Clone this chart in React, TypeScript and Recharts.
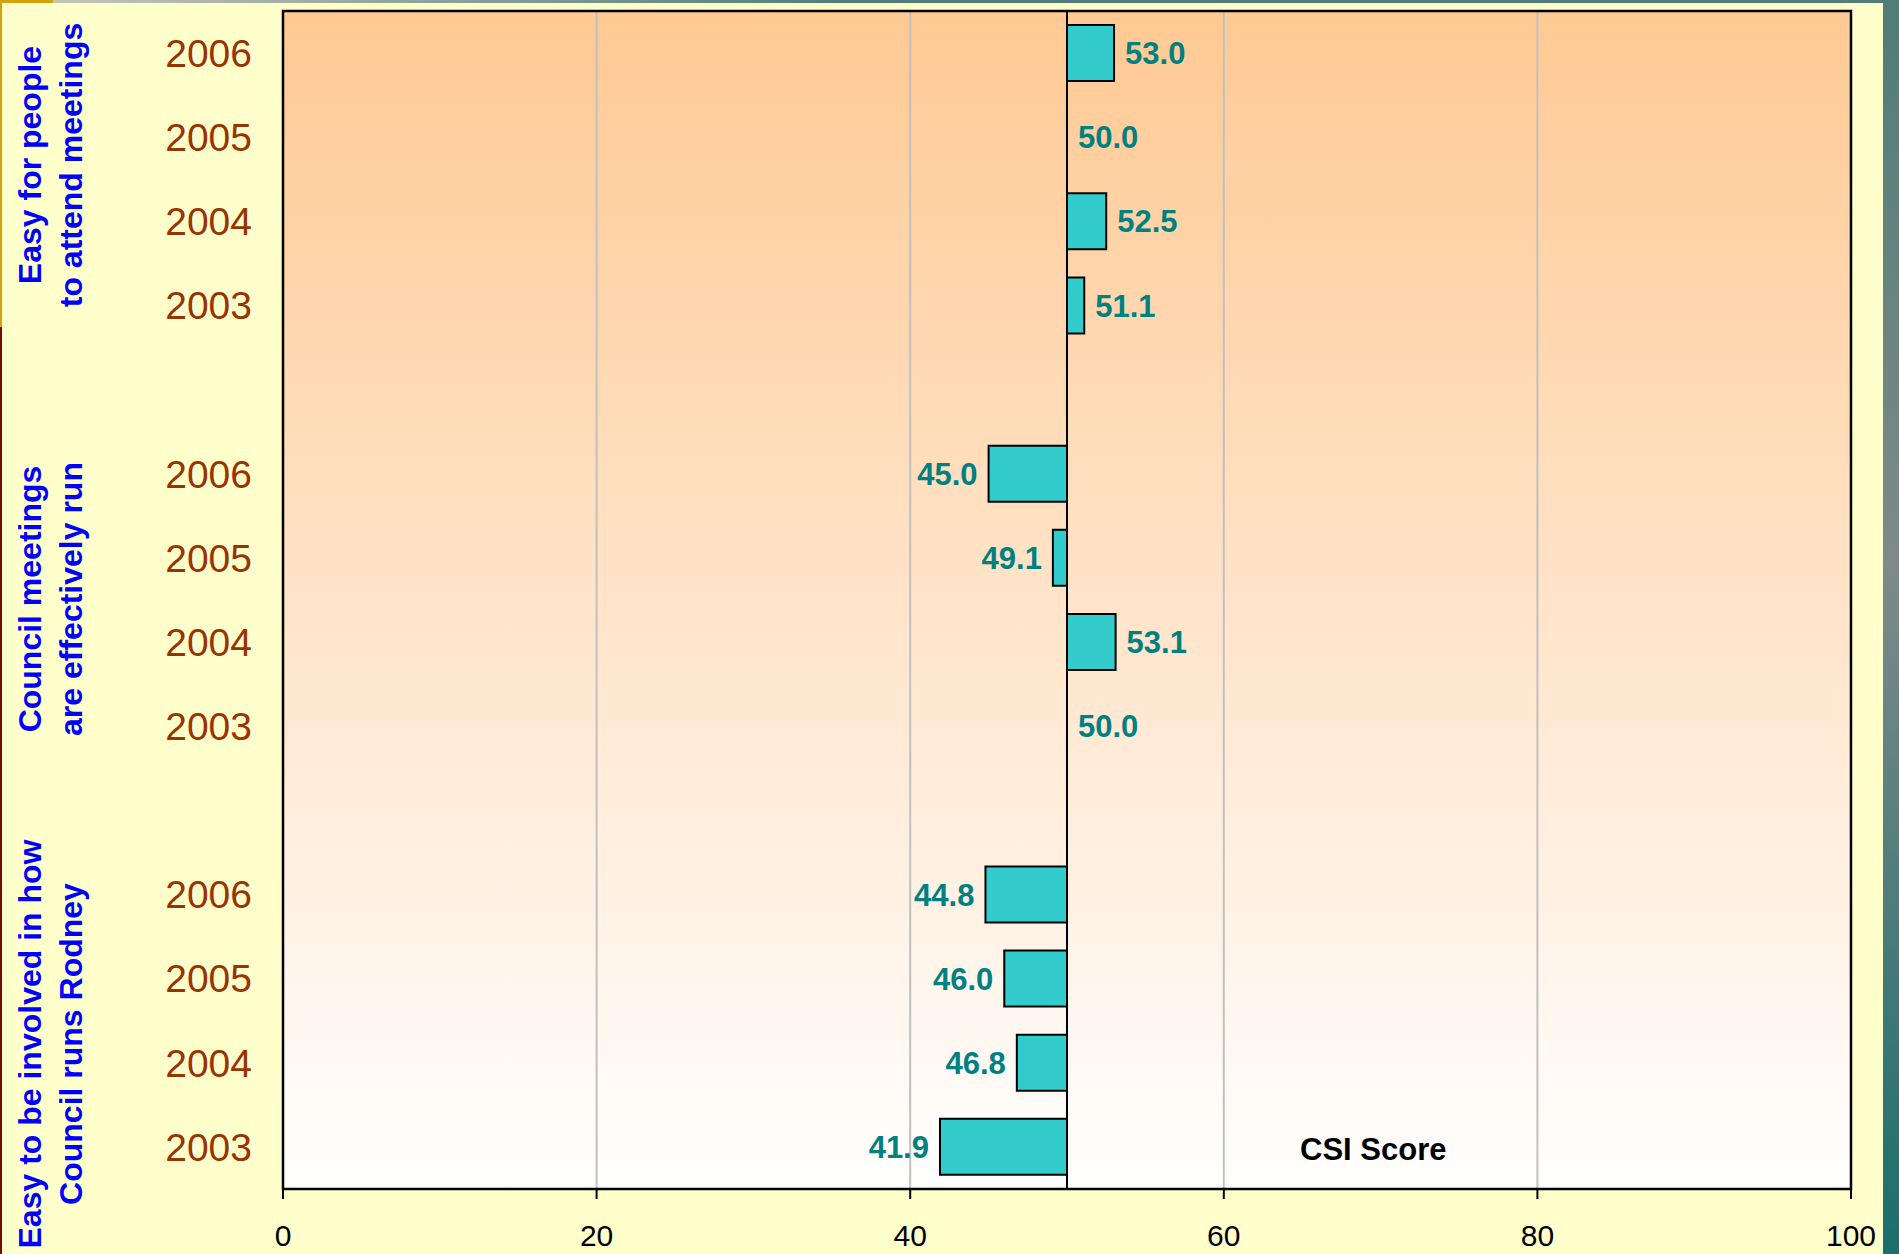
import React from 'react'
import {
  BarChart,
  Bar,
  XAxis,
  YAxis,
  CartesianGrid,
  ReferenceLine,
  ReferenceArea,
  Rectangle,
} from 'recharts'

const FONT = 'Arial, "Liberation Sans", sans-serif'

const groupLabels = [
  ['Easy for people', 'to attend meetings'],
  ['Council meetings', 'are effectively run'],
  ['Easy to be involved in how', 'Council runs Rodney'],
]
const years = ['2006', '2005', '2004', '2003']
const attendScores = [53.0, 50.0, 52.5, 51.1]
const runScores = [45.0, 49.1, 53.1, 50.0]
const involvedScores = [44.8, 46.0, 46.8, 41.9]
const xTicks = [0, 20, 40, 60, 80, 100]
const baseline = 50

// rows top to bottom, one empty slot between groups
const rows: { id: string; year: string; score: number | null }[] = []
;[attendScores, runScores, involvedScores].forEach((scores, g) => {
  scores.forEach((s, i) => rows.push({ id: `g${g}-${i}`, year: years[i], score: s }))
  if (g < 2) rows.push({ id: `gap${g}`, year: '', score: null })
})

const W = 1899
const H = 1254
const margin = { top: 11, right: 48, bottom: 10, left: 0 }
const yAxisWidth = 283
const xAxisHeight = 55

const rangeOf = (r: { score: number | null }) =>
  r.score == null ? null : [Math.min(r.score, baseline), Math.max(r.score, baseline)]

// bar + its value label; drawn together so the zero-width 50.0 rows still get a label
function ScoreBar(props: any) {
  const { x, y, width, height, payload } = props
  const value = payload?.score
  if (value == null) return null
  const above = value >= baseline
  const left = Math.min(x, x + width)
  const right = Math.max(x, x + width)
  return (
    <g>
      {Math.abs(width) > 0.5 && (
        <Rectangle x={left} y={y} width={right - left} height={height} fill="#33CCCC" stroke="#000" strokeWidth={2} />
      )}
      <text
        x={above ? right + 11 : left - 11}
        y={y + height / 2}
        dy="0.36em"
        textAnchor={above ? 'start' : 'end'}
        fill="#008080"
        fontSize={31}
        fontWeight="bold"
        fontFamily={FONT}
      >
        {value.toFixed(1)}
      </text>
    </g>
  )
}

// where the rotated group titles sit (centre y of each)
const groupCentres = [165, 599, 1044]

export default function App() {
  return (
    <div
      style={{
        position: 'absolute',
        left: 0,
        top: 0,
        width: W,
        height: H,
        background: '#FFFFCC',
        overflow: 'hidden',
        fontFamily: FONT,
      }}
    >
      {/* frame stripes */}
      <div style={{ position: 'absolute', left: 0, top: 0, width: W, height: 3, background: 'linear-gradient(to right, #D4A20A 0 53px, #C4C4B8 53px, #4F7D75 45%, #4F7D75)' }} />
      <div style={{ position: 'absolute', left: 0, top: 0, width: 2, height: 327, background: '#D4A20A' }} />
      <div style={{ position: 'absolute', left: 0, top: 327, width: 2, height: H - 327, background: '#7A0A0A' }} />
      <div style={{ position: 'absolute', left: 1883, top: 0, width: 16, height: H, background: 'linear-gradient(to bottom, #4F7D76, #7F8A8A 45%, #1A6E6C)' }} />

      <BarChart
        width={W}
        height={H}
        data={rows}
        layout="vertical"
        margin={margin}
        barSize={56}
      >
        <defs>
          <linearGradient id="plotBg" x1="0" y1="0" x2="0" y2="1">
            <stop offset="0%" stopColor="#FFC993" />
            <stop offset="100%" stopColor="#FFFFFF" />
          </linearGradient>
        </defs>
        <CartesianGrid horizontal={false} stroke="#C0C0C0" strokeWidth={2} fill="url(#plotBg)" fillOpacity={1} />
        <XAxis
          type="number"
          domain={[0, 100]}
          ticks={xTicks}
          height={xAxisHeight}
          tick={{ fill: '#000', fontSize: 30, fontFamily: FONT }}
          tickSize={10}
          tickMargin={26}
          tickLine={{ stroke: '#000', strokeWidth: 2 }}
          axisLine={{ stroke: '#000', strokeWidth: 2 }}
        />
        <YAxis
          type="category"
          dataKey="id"
          width={yAxisWidth}
          tickFormatter={(v: string) => rows.find((r) => r.id === v)?.year ?? ''}
          tick={{ fill: '#993300', fontSize: 39, fontFamily: FONT }}
          tickSize={0}
          tickMargin={31}
          tickLine={false}
          axisLine={false}
          interval={0}
        />
        <ReferenceLine x={baseline} stroke="#000" strokeWidth={2} />
        <Bar dataKey={rangeOf} shape={ScoreBar} isAnimationActive={false} />
        <ReferenceArea x1={0} x2={100} fill="none" stroke="#000" strokeWidth={2.5} ifOverflow="visible" />
      </BarChart>

      <svg width={W} height={H} style={{ position: 'absolute', left: 0, top: 0, pointerEvents: 'none' }}>
        {groupLabels.map((lines, g) =>
          lines.map((line, i) => {
            const x = 41 + i * 41
            const y = groupCentres[g]
            return (
              <text
                key={`${g}-${i}`}
                x={x}
                y={y}
                transform={`rotate(-90 ${x} ${y})`}
                textAnchor="middle"
                fill="#0000FF"
                fontSize={32}
                fontWeight="bold"
                fontFamily={FONT}
              >
                {line}
              </text>
            )
          })
        )}
        <text x={1300} y={1160} fill="#000" fontSize={31} fontWeight="bold" fontFamily={FONT}>
          CSI Score
        </text>
      </svg>
    </div>
  )
}
